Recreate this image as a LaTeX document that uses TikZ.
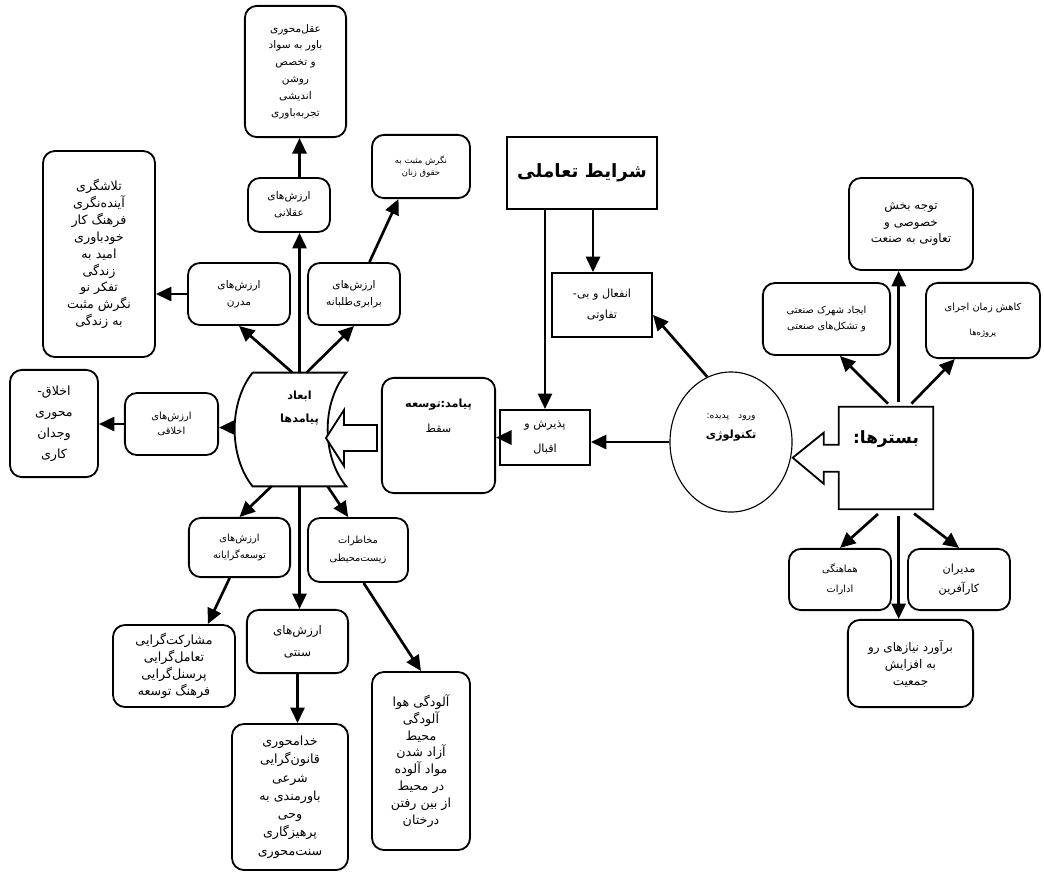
\documentclass[tikz,border=0pt]{standalone}
\usepackage{fontspec}
\newfontfamily\arabicfont[Script=Arabic]{DejaVu Sans}
\TeXXeTstate=1
\usetikzlibrary{shapes,arrows.meta,positioning,calc}
\newcommand{\fatxt}[1]{\beginR#1\endR}

\begin{document}
\begin{tikzpicture}[x=0.025cm, y=-0.025cm,
    every node/.style={font=\arabicfont\fontsize{7.5}{12}\selectfont, align=center, inner sep=2pt},
    rbox/.style={rectangle, draw=black, line width=1.3pt, rounded corners=0.3cm},
    sbox/.style={rectangle, draw=black, line width=1.3pt},
    lst/.style={font=\arabicfont\fontsize{9}{12}\selectfont},
    note/.style={font=\arabicfont\fontsize{6}{8.5}\selectfont},
    arrow/.style={line width=1.9pt, -{Triangle[length=11pt,width=10pt]}}
]
    \useasboundingbox (0,0) rectangle (1044,877);

    % Nodes: left side
    \node[rbox, minimum width=2.53cm, minimum height=3.28cm] (aqlmain) at (295.5,71.5)
        {\fatxt{عقل‌محوری}\\\fatxt{باور به سواد}\\\fatxt{و تخصص}\\\fatxt{روشن}\\\fatxt{اندیشی}\\\fatxt{تجربه‌باوری}};
    \node[rbox, note, minimum width=2.45cm, minimum height=1.58cm] (zanan) at (421,166.5)
        {\fatxt{نگرش مثبت به}\\\fatxt{حقوق زنان}};
    \node[rbox, lst, minimum width=2.8cm, minimum height=5.15cm] (modernlist) at (99,254)
        {\fatxt{تلاشگری}\\\fatxt{آینده‌نگری}\\\fatxt{فرهنگ کار}\\\fatxt{خودباوری}\\\fatxt{امید به}\\\fatxt{زندگی}\\\fatxt{تفکر نو}\\\fatxt{نگرش مثبت}\\\fatxt{به زندگی}};
    \node[rbox, minimum width=2.05cm, minimum height=1.35cm] (aqlani) at (289,205)
        {\fatxt{ارزش‌های}\\\fatxt{عقلانی}};
    \node[rbox, minimum width=2.55cm, minimum height=1.55cm] (modern) at (239,294)
        {\fatxt{ارزش‌های}\\\fatxt{مدرن}};
    \node[rbox, minimum width=2.3cm, minimum height=1.55cm] (barabari) at (354,294)
        {\fatxt{ارزش‌های}\\\fatxt{برابری‌طلبانه}};
    \node[rbox, font=\arabicfont\fontsize{9}{15}\selectfont, minimum width=2.2cm, minimum height=2.68cm] (akhlaqlist) at (54,423.5)
        {\fatxt{اخلاق-}\\\fatxt{محوری}\\\fatxt{وجدان}\\\fatxt{کاری}};
    \node[rbox, font=\arabicfont\fontsize{7}{11}\selectfont, minimum width=2.33cm, minimum height=1.55cm] (akhlaqi) at (171.5,424)
        {\fatxt{ارزش‌های}\\\fatxt{اخلاقی}};

    % Nodes: center
    \node[font=\arabicfont\bfseries\fontsize{8}{16.5}\selectfont, minimum width=2.33cm, minimum height=2.83cm] (abad) at (299.5,429.5)
        {\fatxt{ابعاد}\\\fatxt{پیامدها}\\[16pt]\mbox{}};
    \node[rbox, font=\arabicfont\fontsize{8}{17.7}\selectfont, minimum width=2.83cm, minimum height=2.88cm] (payamad) at (438.5,435.5)
        {\fatxt{\bfseries پیامد:توسعه}\\\fatxt{سقط}\\[10pt]\mbox{}};
    \node[sbox, font=\arabicfont\fontsize{8}{18}\selectfont, minimum width=2.25cm, minimum height=1.38cm] (paziresh) at (545,437.5)
        {\fatxt{پذیرش و}\\\fatxt{اقبال}};
    \node[sbox, font=\arabicfont\bfseries\fontsize{13}{16}\selectfont, minimum width=3.75cm, minimum height=1.8cm] (sharayet) at (582,173)
        {\fatxt{شرایط تعاملی}};
    \node[sbox, font=\arabicfont\fontsize{8}{15.5}\selectfont, minimum width=2.5cm, minimum height=1.6cm] (enfeal) at (602,305)
        {\fatxt{انفعال و بی-}\\\fatxt{تفاوتی}};
    \node[ellipse, draw=black, line width=0.8pt, inner sep=0pt, font=\arabicfont\fontsize{6.5}{14}\selectfont, minimum width=3.05cm, minimum height=3.5cm] (tech) at (731,442)
        {\fatxt{ورود\quad پدیده:}\\\fatxt{\bfseries\fontsize{8}{14}\selectfont تکنولوژی}\\[8.6pt]\mbox{}};

    % Nodes: right side
    \node[font=\arabicfont\bfseries\fontsize{12}{15}\selectfont, minimum width=2.35cm, minimum height=2.55cm] (bastar) at (886,458)
        {\fatxt{بسترها:}\\[15pt]\mbox{}};
    \node[rbox, font=\arabicfont\fontsize{8.5}{12}\selectfont, minimum width=3.1cm, minimum height=2.3cm] (tavajoh) at (911,224)
        {\fatxt{توجه بخش}\\\fatxt{خصوصی و}\\\fatxt{تعاونی به صنعت}};
    \node[rbox, font=\arabicfont\fontsize{7}{12}\selectfont, minimum width=3.18cm, minimum height=1.8cm] (ijad) at (826.5,319)
        {\fatxt{ایجاد شهرک صنعتی}\\\fatxt{و تشکل‌های صنعتی}};
    \node[rbox, font=\arabicfont\fontsize{7}{18}\selectfont, minimum width=2.85cm, minimum height=1.88cm] (kahesh) at (983,320.5)
        {\fatxt{کاهش زمان اجرای}\\\fatxt{\fontsize{6}{18}\selectfont پروژه‌ها}};
    \node[rbox, font=\arabicfont\fontsize{7}{14}\selectfont, minimum width=2.55cm, minimum height=1.53cm] (hamahangi) at (840,579.5)
        {\fatxt{هماهنگی}\\\fatxt{ادارات}};
    \node[rbox, font=\arabicfont\fontsize{8}{14}\selectfont, minimum width=2.55cm, minimum height=1.53cm] (modiran) at (959,579.5)
        {\fatxt{مدیران}\\\fatxt{کارآفرین}};
    \node[rbox, font=\arabicfont\fontsize{8.5}{12}\selectfont, minimum width=3.13cm, minimum height=2.18cm] (baravord) at (910.5,663.5)
        {\fatxt{برآورد نیازهای رو}\\\fatxt{به افزایش}\\\fatxt{جمعیت}};

    % Nodes: bottom
    \node[rbox, font=\arabicfont\fontsize{7}{12.5}\selectfont, minimum width=2.53cm, minimum height=1.48cm] (tosee) at (239.5,547.5)
        {\fatxt{ارزش‌های}\\\fatxt{توسعه‌گرایانه}};
    \node[rbox, font=\arabicfont\fontsize{7}{12.5}\selectfont, minimum width=2.5cm, minimum height=1.6cm] (makhatarat) at (358,550)
        {\fatxt{مخاطرات}\\\fatxt{زیست‌محیطی}};
    \node[rbox, lst, minimum width=3.05cm, minimum height=2.05cm] (mosharekat) at (174,666)
        {\fatxt{مشارکت‌گرایی}\\\fatxt{تعامل‌گرایی}\\\fatxt{پرسنل‌گرایی}\\\fatxt{فرهنگ توسعه}};
    \node[rbox, font=\arabicfont\fontsize{8.5}{15.5}\selectfont, minimum width=2.53cm, minimum height=1.58cm] (sonnati) at (297.5,641.5)
        {\fatxt{ارزش‌های}\\\fatxt{سنتی}};
    \node[rbox, lst, minimum width=2.45cm, minimum height=4.45cm] (aloodegi) at (421,761)
        {\fatxt{آلودگی هوا}\\\fatxt{آلودگی}\\\fatxt{محیط}\\\fatxt{آزاد شدن}\\\fatxt{مواد آلوده}\\\fatxt{در محیط}\\\fatxt{از بین رفتن}\\\fatxt{درختان}};
    \node[rbox, font=\arabicfont\fontsize{9}{13}\selectfont, minimum width=2.9cm, minimum height=3.65cm] (khoda) at (290,797)
        {\fatxt{خدامحوری}\\\fatxt{قانون‌گرایی}\\\fatxt{شرعی}\\\fatxt{باورمندی به}\\\fatxt{وحی}\\\fatxt{پرهیزگاری}\\\fatxt{سنت‌محوری}};

    % Outlines of the two arrow boxes
    \draw[line width=1.3pt] (abad.north west) -- (abad.north east)
        .. controls ($(abad.north east)+(-25,30)$) and ($(abad.south east)+(-25,-30)$) .. (abad.south east)
        -- (abad.south west)
        .. controls ($(abad.south west)+(-24,-30)$) and ($(abad.north west)+(-24,30)$) .. (abad.north west);
    \coordinate (abadw) at ($(abad.west)+(-18,-2)$);
    \draw[line width=1.3pt] (bastar.north west) -- (bastar.north east) -- (bastar.south east) -- (bastar.south west)
        -- ($(bastar.north west)+(0,65)$) -- ++(-15,0) -- ++(0,12) -- ($(bastar.north west)+(-46,51)$)
        -- ($(bastar.north west)+(-15,26)$) -- ++(0,12) -- ($(bastar.north west)+(0,38)$) -- cycle;
    \coordinate (harrow) at ($(payamad.west)+(-4,2.5)$);
    \draw[line width=1.3pt, fill=white] (harrow) ++(0,-13) -- ++(-33,0) -- ++(0,-15) -- ++(-18,28)
        -- ++(18,28) -- ++(0,-15) -- ++(33,0) -- cycle;

    % Arrows
    \draw[arrow] (abad.north) -- (abad.north |- aqlani.south);
    \draw[arrow] (aqlani.north -| abad.north) -- (aqlmain.south -| abad.north);
    \draw[arrow] ([xshift=-5pt]abad.north) -- (modern.south);
    \draw[arrow] ([xshift=5pt]abad.north) -- (barabari.south);
    \draw[arrow] ([xshift=11pt]barabari.north) -- ([xshift=-16pt]zanan.south);
    \draw[arrow] (modern.west) -- (modern.west -| modernlist.east);
    \draw[arrow] (abadw) -- (abadw -| akhlaqi.east);
    \draw[arrow] (akhlaqi.west) -- (akhlaqi.west -| akhlaqlist.east);
    \draw[arrow] ([xshift=-20pt]abad.south) -- (tosee.north);
    \draw[arrow] (abad.south) -- (abad.south |- sonnati.north);
    \draw[arrow] ([xshift=20pt]abad.south) -- ([xshift=-7pt]makhatarat.north);
    \draw[arrow] ([xshift=-7pt]tosee.south) -- ([xshift=24pt]mosharekat.north);
    \draw[arrow] ([xshift=4pt]makhatarat.south) -- (aloodegi.north);
    \draw[arrow] (sonnati.south) -- (sonnati.south |- khoda.north);
    \draw[arrow] (paziresh.west) -- (paziresh.west -| payamad.east);
    \draw[arrow] (tech.west) -- (tech.west -| paziresh.east);
    \draw[arrow] (sharayet.south -| paziresh.north) -- (paziresh.north);
    \draw[arrow] ($(sharayet.south -| enfeal.north)+(-9,0)$) -- ($(enfeal.north)+(-9,0)$);
    \draw[arrow] (tech.110) -- ([yshift=-7pt]enfeal.east);
    \draw[arrow, shorten <=3pt] ([xshift=3.5pt]bastar.north) -- ([xshift=9.5pt]ijad.south);
    \draw[arrow, shorten <=3pt] ([xshift=9pt]bastar.north) -- ([xshift=9pt]bastar.north |- tavajoh.south);
    \draw[arrow, shorten <=3pt] ([xshift=16pt]bastar.north) -- ([xshift=-20pt]kahesh.south);
    \draw[arrow, shorten <=5pt] ([xshift=-2pt]bastar.south) -- (hamahangi.north);
    \draw[arrow, shorten <=5pt] ([xshift=9pt]bastar.south) -- ([xshift=9pt]bastar.south |- baravord.north);
    \draw[arrow, shorten <=5pt] ([xshift=16pt]bastar.south) -- (modiran.north);

\end{tikzpicture}
\end{document}
